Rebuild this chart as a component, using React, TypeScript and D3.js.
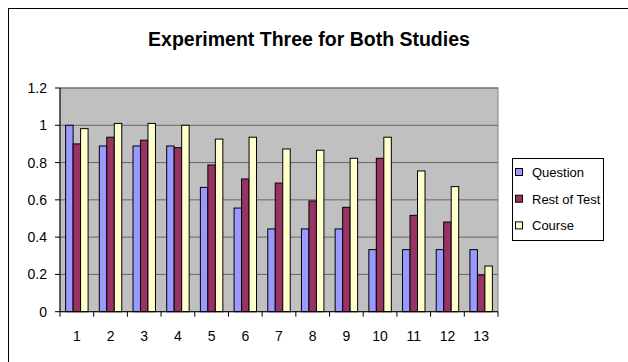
import React from "react";
import * as d3 from "d3";

const categories = ["1","2","3","4","5","6","7","8","9","10","11","12","13"];
const seriesNames = ["Question", "Rest of Test", "Course"];
const question = [1.0, 0.889, 0.889, 0.889, 0.667, 0.556, 0.444, 0.444, 0.444, 0.333, 0.333, 0.333, 0.333];
const restOfTest = [0.9, 0.936, 0.92, 0.88, 0.787, 0.712, 0.69, 0.594, 0.56, 0.823, 0.517, 0.481, 0.197];
const course = [0.982, 1.01, 1.01, 1.0, 0.926, 0.936, 0.873, 0.866, 0.823, 0.936, 0.755, 0.671, 0.245];
const yTicks = [0, 0.2, 0.4, 0.6, 0.8, 1, 1.2];
const colors = ["#9999FF", "#993366", "#FFFFCC"];

const W = 628, H = 362;
const plot = { left: 60, right: 498, top: 88, bottom: 311.7 };
const font = "'Liberation Sans', Arial, sans-serif";

export default function App() {
  const series = [question, restOfTest, course];
  const x = d3.scaleBand<string>().domain(categories).range([plot.left, plot.right]).paddingInner(0).paddingOuter(0);
  const y = d3.scaleLinear().domain([0, 1.2]).range([plot.bottom, plot.top]);
  const bw = x.bandwidth() / 4.5;
  const x1 = d3.scaleBand<number>().domain([0, 1, 2]).range([0, bw * 3]);
  const groupOffset = (x.bandwidth() - bw * 3) / 2;
  const fmt = (v: number) => String(+v.toFixed(1));

  return (
    <svg width={W} height={H} style={{ position: "absolute", left: 0, top: 0, fontFamily: font }}>
      <rect x={0} y={0} width={W} height={H} fill="#fff" />
      <rect x={8.5} y={8.5} width={640} height={380} fill="none" stroke="#000" strokeWidth={1} />
      <text x={309} y={46} textAnchor="middle" fontSize={19.5} fontWeight="bold" fill="#000">
        Experiment Three for Both Studies
      </text>
      <rect x={plot.left} y={plot.top} width={plot.right - plot.left} height={plot.bottom - plot.top} fill="#C0C0C0" stroke="#808080" strokeWidth={1} />
      {yTicks.filter((t) => t > 0).map((t) => (
        <line key={"g" + t} x1={plot.left} x2={plot.right} y1={y(t)} y2={y(t)} stroke="#666" strokeWidth={1} />
      ))}
      {series.map((vals, si) =>
        vals.map((v, i) => (
          <rect
            key={si + "-" + i}
            x={(x(categories[i]) as number) + groupOffset + (x1(si) as number)}
            y={y(v)}
            width={bw}
            height={y(0) - y(v)}
            fill={colors[si]}
            stroke="#000"
            strokeWidth={1}
          />
        ))
      )}
      <line x1={plot.left} x2={plot.left} y1={plot.top} y2={plot.bottom} stroke="#000" />
      <line x1={plot.left} x2={plot.right} y1={plot.bottom} y2={plot.bottom} stroke="#000" />
      {yTicks.map((t) => (
        <g key={"y" + t}>
          <line x1={plot.left - 5} x2={plot.left} y1={y(t)} y2={y(t)} stroke="#000" />
          <text x={47} y={y(t) + 5} textAnchor="end" fontSize={14} fill="#000">{fmt(t)}</text>
        </g>
      ))}
      {categories.map((c) => (
        <line key={"xt" + c} x1={(x(c) as number)} x2={(x(c) as number)} y1={plot.bottom} y2={plot.bottom + 5} stroke="#000" />
      ))}
      <line x1={plot.right} x2={plot.right} y1={plot.bottom} y2={plot.bottom + 5} stroke="#000" />
      {categories.map((c) => (
        <text key={"xl" + c} x={(x(c) as number) + x.bandwidth() / 2} y={341} textAnchor="middle" fontSize={14} fill="#000">{c}</text>
      ))}
      <rect x={512.5} y={158.5} width={91} height={82} fill="#fff" stroke="#000" strokeWidth={1} />
      {seriesNames.map((n, i) => (
        <g key={n}>
          <rect x={515.5} y={168.5 + i * 26.7} width={7} height={7} fill={colors[i]} stroke="#000" />
          <text x={532} y={177 + i * 26.7} fontSize={13} fill="#000">{n}</text>
        </g>
      ))}
    </svg>
  );
}
